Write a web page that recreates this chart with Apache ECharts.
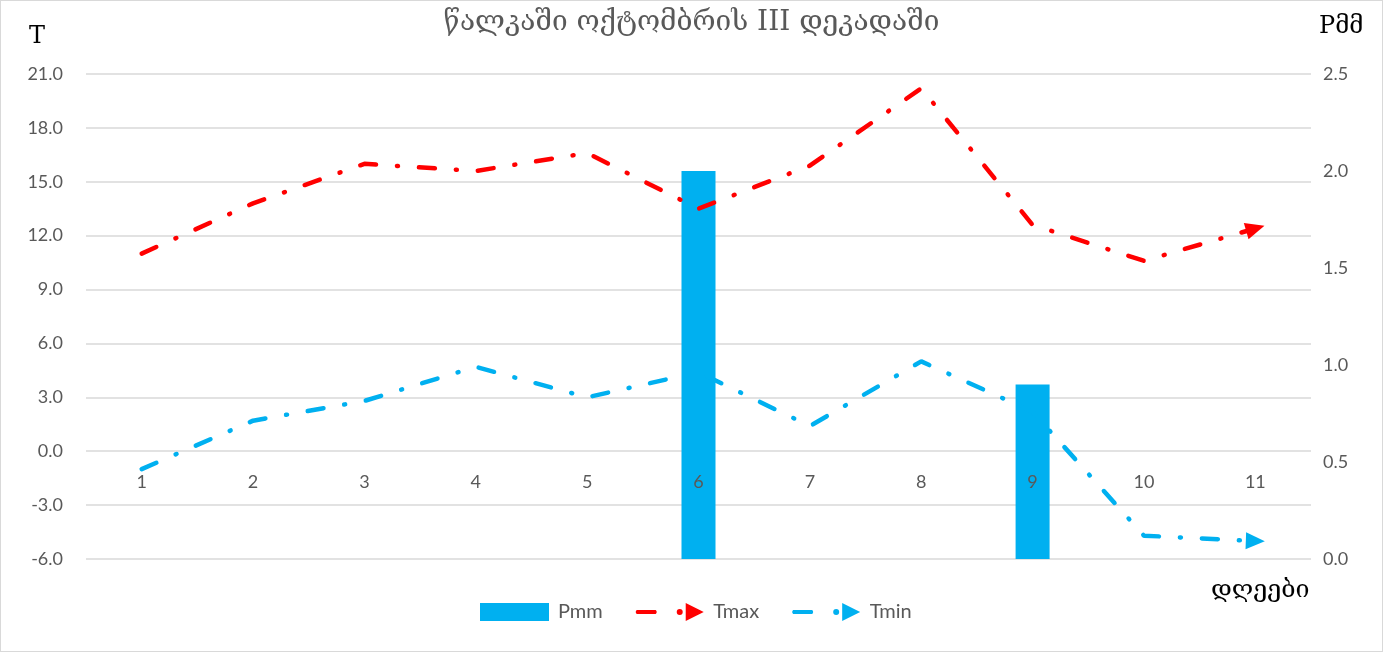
<!DOCTYPE html>
<html>
<head>
<meta charset="utf-8">
<script src="https://cdn.jsdelivr.net/npm/echarts@6/dist/echarts.min.js"></script>
<style>
  html, body { margin: 0; padding: 0; background: #fff; }
  #chart { width: 1383px; height: 652px; box-sizing: border-box; border: 1.5px solid #d9d9d9; }
</style>
</head>
<body>
<div id="chart"></div>
<script>
// days of the third decade
const days = ['1', '2', '3', '4', '5', '6', '7', '8', '9', '10', '11']
const pmm = [0, 0, 0, 0, 0, 2.0, 0, 0, 0.9, 0, 0]
const tmax = [11.0, 13.8, 16.0, 15.6, 16.6, 13.5, 15.9, 20.2, 12.6, 10.6, 12.4]
const tmin = [-1.0, 1.7, 2.8, 4.7, 3.0, 4.4, 1.4, 5.0, 2.2, -4.7, -5.0]

const labelFont = 'Lato, "Open Sans", sans-serif'
const georgianFont = '"DejaVu Serif", serif'

// line with a triangle at the last point only
const withArrow = (arr, rot) => arr.map((v, i) => i === arr.length - 1
    ? { value: v, symbol: 'triangle', symbolSize: [17, 19], symbolRotate: rot }
    : v)

// dash, dot, arrow head (69 x 18)
const lineIcon = 'path://M2,7 L21,7 Q23,9 21,11 L2,11 Q0,9 2,7 Z M45,9 m-3,0 a3,3 0 1,0 6,0 a3,3 0 1,0 -6,0 Z M51,0 L69,9 L51,18 Z'

const chart = echarts.init(document.getElementById('chart'))

chart.setOption({
    animation: false,
    title: {
        text: 'წალკაში ოქტომბრის III დეკადაში',
        left: 'center',
        top: 3,
        textStyle: { fontFamily: georgianFont, fontWeight: 'normal', fontSize: 28, color: '#595959' }
    },
    graphic: [
        { type: 'text', left: 28, top: 24, style: { text: 'T', fontFamily: georgianFont, fontSize: 24, fill: '#000' } },
        { type: 'text', left: 1318, top: 14, style: { text: 'Pმმ', fontFamily: georgianFont, fontSize: 24, fill: '#000' } },
        { type: 'text', left: 1210, top: 577, style: { text: 'დღეები', fontFamily: georgianFont, fontSize: 25, fill: '#000' } }
    ],
    legend: {
        bottom: 24,
        left: 474,
        itemGap: 33,
        textStyle: { fontFamily: labelFont, fontSize: 20, color: '#595959', padding: [0, 0, 0, 4] },
        data: [
            { name: 'Pmm', icon: 'rect', itemStyle: { color: '#00b0f0' } },
            { name: 'Tmax', icon: lineIcon },
            { name: 'Tmin', icon: lineIcon }
        ],
        itemWidth: 69,
        itemHeight: 18
    },
    grid: { left: 85, right: 71, top: 73, bottom: 92, containLabel: false },
    xAxis: {
        type: 'category',
        data: days,
        boundaryGap: true,
        z: 10,
        // axis sits on the 0.0 line of the left scale (6 steps of 3 above the bottom)
        offset: -108,
        axisLine: { show: false, onZero: false },
        axisTick: { show: false },
        axisLabel: { margin: 22, fontFamily: labelFont, fontSize: 18, color: '#595959' }
    },
    yAxis: [
        {
            type: 'value',
            min: -6,
            max: 21,
            interval: 3,
            axisLine: { show: false },
            axisTick: { show: false },
            splitLine: { lineStyle: { color: '#d9d9d9', width: 1.5 } },
            axisLabel: {
                margin: 23,
                fontFamily: labelFont, fontSize: 18, color: '#595959',
                formatter: v => v.toFixed(1)
            }
        },
        {
            type: 'value',
            min: 0,
            max: 2.5,
            interval: 0.5,
            axisLine: { show: false },
            axisTick: { show: false },
            splitLine: { show: false },
            axisLabel: {
                margin: 12,
                fontFamily: labelFont, fontSize: 18, color: '#595959',
                formatter: v => v.toFixed(1)
            }
        }
    ],
    series: [
        {
            name: 'Pmm',
            type: 'bar',
            yAxisIndex: 1,
            data: pmm,
            barWidth: 34,
            itemStyle: { color: '#00b0f0' }
        },
        {
            name: 'Tmax',
            type: 'line',
            data: withArrow(tmax, -74),
            symbol: 'none',
            showSymbol: true,
            showAllSymbol: true,
            itemStyle: { color: '#ff0000' },
            lineStyle: { color: '#ff0000', width: 4.5, type: [16, 21, 1, 21], cap: 'round' }
        },
        {
            name: 'Tmin',
            type: 'line',
            data: withArrow(tmin, -92),
            symbol: 'none',
            showSymbol: true,
            showAllSymbol: true,
            itemStyle: { color: '#00b0f0' },
            lineStyle: { color: '#00b0f0', width: 4.5, type: [16, 21, 1, 21], cap: 'round' }
        }
    ]
})
</script>
</body>
</html>
